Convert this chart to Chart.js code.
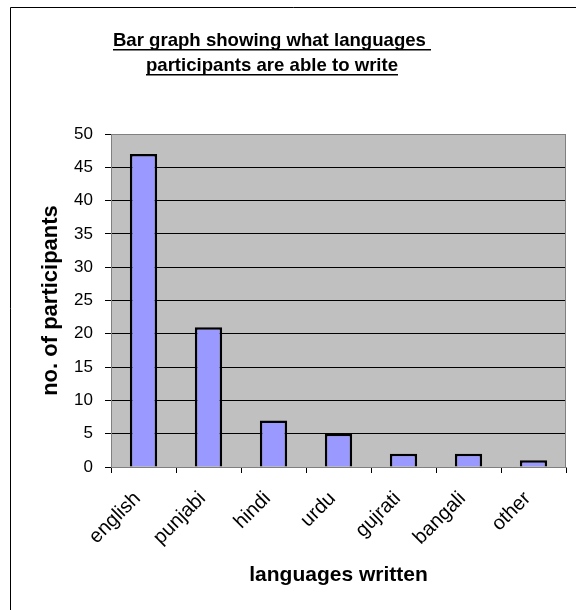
<!DOCTYPE html>
<html>
<head>
<meta charset="utf-8">
<script src="https://cdn.jsdelivr.net/npm/chart.js@4/dist/chart.umd.min.js"></script>
<style>
  html, body { margin: 0; padding: 0; background: #ffffff; }
  #wrap { width: 576px; height: 610px; }
</style>
</head>
<body>
<div id="wrap"><canvas id="chart" width="576" height="610"></canvas></div>
<script>
const languages = ['english', 'punjabi', 'hindi', 'urdu', 'gujrati', 'bangali', 'other'];
const participants = [47, 21, 7, 5, 2, 2, 1];
const titleLines = ['Bar graph showing what languages ', 'participants are able to write'];
const yTitle = 'no. of participants';
const xTitle = 'languages written';

const FONT = 'Arial, "Liberation Sans", sans-serif';

// gray plot area + gray frame, like the old excel chart
const plotArea = {
    id: 'plotArea',
    beforeDraw(chart) {
        const { ctx, chartArea: a } = chart;
        ctx.save();
        ctx.fillStyle = '#C0C0C0';
        ctx.fillRect(a.left, a.top, a.right - a.left, a.bottom - a.top);
        ctx.restore();
    },
    beforeDatasetsDraw(chart) {
        const { ctx, chartArea: a } = chart;
        ctx.save();
        ctx.strokeStyle = '#808080';
        ctx.lineWidth = 1;
        ctx.strokeRect(Math.round(a.left) + 0.5, Math.round(a.top) + 0.5,
            Math.round(a.right - a.left) - 1, Math.round(a.bottom - a.top));
        ctx.restore();
    }
};

// underlined two line title + outer frame (left/top only, picture is cropped)
const underlinedTitle = {
    id: 'underlinedTitle',
    afterDraw(chart) {
        const { ctx } = chart;
        ctx.save();
        ctx.strokeStyle = '#000';
        ctx.lineWidth = 1;
        ctx.beginPath();
        ctx.moveTo(10.5, 610);
        ctx.lineTo(10.5, 7.5);
        ctx.lineTo(576, 7.5);
        ctx.stroke();

        ctx.font = 'bold 18.6px ' + FONT;
        ctx.fillStyle = '#000';
        ctx.textAlign = 'center';
        ctx.textBaseline = 'alphabetic';
        const cx = 272;
        titleLines.forEach((line, i) => {
            const y = 46 + i * 25;
            ctx.fillText(line, cx, y);
            const w = ctx.measureText(line).width;
            ctx.fillRect(Math.round(cx - w / 2), y + 3, Math.round(w), 1.5);
        });
        ctx.restore();
    }
};

new Chart(document.getElementById('chart').getContext('2d'), {
    type: 'bar',
    data: {
        labels: languages,
        datasets: [{
            label: yTitle,
            data: participants,
            backgroundColor: '#9999FF',
            borderColor: '#000000',
            borderWidth: 2.5,
            categoryPercentage: 1,
            barPercentage: 0.42
        }]
    },
    options: {
        responsive: false,
        animation: false,
        layout: { padding: { top: 134, right: 10, left: 0, bottom: 0 } },
        plugins: {
            legend: { display: false },
            tooltip: { enabled: false }
        },
        scales: {
            x: {
                afterFit: s => { s.height = 143; },
                grid: {
                    drawOnChartArea: false,
                    drawTicks: true,
                    tickLength: 6,
                    tickColor: '#000'
                },
                border: { color: '#808080' },
                ticks: {
                    color: '#000',
                    font: { family: FONT, size: 20 },
                    minRotation: 45,
                    maxRotation: 45,
                    padding: 14,
                    labelOffset: -6
                },
                title: {
                    display: true,
                    text: xTitle,
                    color: '#000',
                    font: { family: FONT, size: 21, weight: 'bold' },
                    padding: { top: 0, bottom: 22 }
                }
            },
            y: {
                min: 0,
                max: 50,
                afterFit: s => { s.width = 111; },
                grid: {
                    color: c => (c.tick && c.tick.value === 50) ? '#808080' : '#000',
                    lineWidth: 1,
                    tickLength: 6,
                    tickColor: '#000'
                },
                border: { color: '#808080' },
                ticks: {
                    stepSize: 5,
                    color: '#000',
                    font: { family: FONT, size: 17 },
                    padding: 12
                },
                title: {
                    display: true,
                    text: yTitle,
                    color: '#000',
                    font: { family: FONT, size: 22, weight: 'bold' },
                    padding: { top: 38, bottom: 0 }
                }
            }
        }
    },
    plugins: [plotArea, underlinedTitle]
});
</script>
</body>
</html>
